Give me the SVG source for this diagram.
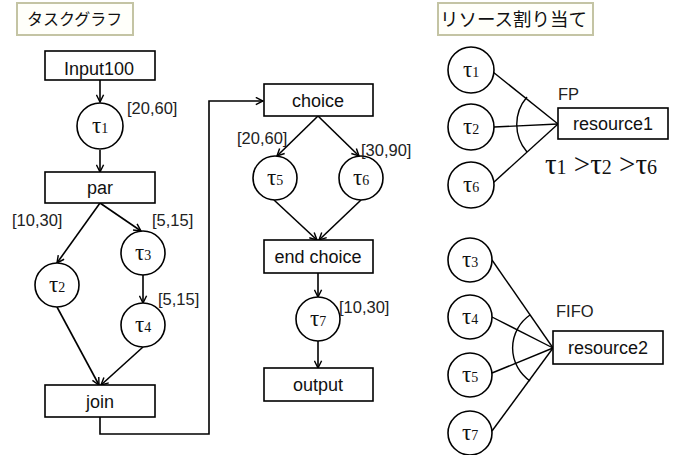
<svg xmlns="http://www.w3.org/2000/svg" width="677" height="455" viewBox="0 0 677 455">
  <style>
    .box { fill: #ffffff; stroke: #000; stroke-width: 1.6; }
    .title { fill: #fffffa; stroke: #c4c4a4; stroke-width: 2; }
    .title-text { font-family: "Noto Sans CJK JP", "Noto Sans", sans-serif; fill: #111; }
    .label { font-family: "Liberation Sans", Arial, sans-serif; font-size: 18px; fill: #111; text-anchor: middle; }
    .range { font-family: "Liberation Sans", Arial, sans-serif; font-size: 16.5px; fill: #222; }
    .task { fill: #fff; stroke: #000; stroke-width: 1.6; }
    .tau { font-family: "Liberation Serif", "Times New Roman", serif; font-size: 23px; fill: #111; text-anchor: middle; }
    .sub { font-size: 14px; }
    .edge { fill: none; stroke: #000; stroke-width: 1.6; }
    .link { fill: none; stroke: #000; stroke-width: 1.4; }
  </style>
  <defs>
    <marker id="arrow" viewBox="0 0 10 10" refX="9" refY="5" markerWidth="9" markerHeight="9" markerUnits="userSpaceOnUse" orient="auto">
      <path d="M1,1 L9,5 L1,9" fill="none" stroke="#000" stroke-width="1.6"/>
    </marker>
  </defs>

  <!-- section titles -->
  <g id="title-taskgraph">
    <rect class="title" x="17" y="3" width="116" height="32"/>
    <text class="title-text" x="27" y="25" style="font-size:16px">タスクグラフ</text>
  </g>
  <g id="title-resource">
    <rect class="title" x="438" y="3" width="155" height="32"/>
    <text class="title-text" x="440" y="26" style="font-size:18.5px">リソース割り当て</text>
  </g>

  <!-- connectors -->
  <g id="connectors">
    <line class="edge" x1="100" y1="80" x2="100" y2="102" marker-end="url(#arrow)"/>
    <line class="edge" x1="100" y1="150" x2="100" y2="172" marker-end="url(#arrow)"/>
    <line class="edge" x1="100" y1="203" x2="57" y2="263" marker-end="url(#arrow)"/>
    <line class="edge" x1="100" y1="203" x2="141" y2="231" marker-end="url(#arrow)"/>
    <line class="edge" x1="143" y1="274" x2="143" y2="303" marker-end="url(#arrow)"/>
    <line class="edge" x1="57" y1="307" x2="99" y2="385" marker-end="url(#arrow)"/>
    <line class="edge" x1="143" y1="347" x2="101" y2="385" marker-end="url(#arrow)"/>
    <polyline class="edge" points="100,417 100,434 209,434 209,101 263,101" marker-end="url(#arrow)"/>
    <line class="edge" x1="318" y1="116" x2="277" y2="156" marker-end="url(#arrow)"/>
    <line class="edge" x1="318" y1="116" x2="359" y2="156" marker-end="url(#arrow)"/>
    <line class="edge" x1="274" y1="200" x2="317" y2="240" marker-end="url(#arrow)"/>
    <line class="edge" x1="361" y1="200" x2="319" y2="240" marker-end="url(#arrow)"/>
    <line class="edge" x1="318" y1="273" x2="318" y2="297" marker-end="url(#arrow)"/>
    <line class="edge" x1="318" y1="341" x2="318" y2="368" marker-end="url(#arrow)"/>

    <!-- resource1 assignment (FP) -->
    <line class="link" x1="493" y1="72" x2="558" y2="124"/>
    <line class="link" x1="494" y1="127" x2="558" y2="124"/>
    <line class="link" x1="493" y1="183" x2="558" y2="124"/>
    <path class="link" d="M527,97 A42,42 0 0 0 527,152"/>

    <!-- resource2 assignment (FIFO) -->
    <line class="link" x1="492" y1="260" x2="553" y2="348"/>
    <line class="link" x1="492" y1="317" x2="553" y2="348"/>
    <line class="link" x1="492" y1="373" x2="553" y2="348"/>
    <line class="link" x1="492" y1="431" x2="553" y2="348"/>
    <path class="link" d="M530,315 A40,40 0 0 0 530,381"/>
  </g>

  <!-- task graph nodes -->
  <g id="input100">
    <rect class="box" x="45" y="51" width="110" height="29"/>
    <text class="label" x="99" y="75">Input100</text>
  </g>
  <g id="t1">
    <circle class="task" cx="100" cy="126" r="23"/>
    <text class="tau" x="100" y="133">τ<tspan class="sub">1</tspan></text>
    <text class="range" x="127" y="114">[20,60]</text>
  </g>
  <g id="par">
    <rect class="box" x="45" y="172" width="110" height="31"/>
    <text class="label" x="100" y="194">par</text>
  </g>
  <g id="t2">
    <circle class="task" cx="57" cy="285" r="22"/>
    <text class="tau" x="57" y="292">τ<tspan class="sub">2</tspan></text>
    <text class="range" x="12" y="226">[10,30]</text>
  </g>
  <g id="t3">
    <circle class="task" cx="143" cy="253" r="22"/>
    <text class="tau" x="143" y="260">τ<tspan class="sub">3</tspan></text>
    <text class="range" x="152" y="226">[5,15]</text>
  </g>
  <g id="t4">
    <circle class="task" cx="143" cy="325" r="22"/>
    <text class="tau" x="143" y="332">τ<tspan class="sub">4</tspan></text>
    <text class="range" x="158" y="305">[5,15]</text>
  </g>
  <g id="join">
    <rect class="box" x="45" y="385" width="110" height="32"/>
    <text class="label" x="100" y="408">join</text>
  </g>
  <g id="choice">
    <rect class="box" x="264" y="84" width="109" height="32"/>
    <text class="label" x="318" y="107">choice</text>
  </g>
  <g id="t5">
    <circle class="task" cx="275" cy="178" r="22"/>
    <text class="tau" x="275" y="185">τ<tspan class="sub">5</tspan></text>
    <text class="range" x="237" y="144">[20,60]</text>
  </g>
  <g id="t6">
    <circle class="task" cx="361" cy="178" r="22"/>
    <text class="tau" x="361" y="185">τ<tspan class="sub">6</tspan></text>
    <text class="range" x="361" y="156">[30,90]</text>
  </g>
  <g id="end-choice">
    <rect class="box" x="264" y="240" width="109" height="33"/>
    <text class="label" x="318" y="263">end choice</text>
  </g>
  <g id="t7">
    <circle class="task" cx="318" cy="319" r="22"/>
    <text class="tau" x="318" y="326">τ<tspan class="sub">7</tspan></text>
    <text class="range" x="339" y="313">[10,30]</text>
  </g>
  <g id="output">
    <rect class="box" x="264" y="368" width="109" height="33"/>
    <text class="label" x="318" y="391">output</text>
  </g>

  <!-- resource allocation nodes -->
  <g id="r-t1">
    <circle class="task" cx="471" cy="70" r="23"/>
    <text class="tau" x="471" y="77">τ<tspan class="sub">1</tspan></text>
  </g>
  <g id="r-t2">
    <circle class="task" cx="471" cy="127" r="23"/>
    <text class="tau" x="471" y="134">τ<tspan class="sub">2</tspan></text>
  </g>
  <g id="r-t6">
    <circle class="task" cx="471" cy="185" r="23"/>
    <text class="tau" x="471" y="192">τ<tspan class="sub">6</tspan></text>
  </g>
  <g id="resource1">
    <rect class="box" x="558" y="108" width="110" height="31"/>
    <text class="label" x="613" y="130">resource1</text>
    <text class="range" x="558" y="100">FP</text>
    <text class="tau" x="601" y="174" style="font-size:29px">τ<tspan style="font-size:20px">1</tspan> &gt;τ<tspan style="font-size:20px">2</tspan> &gt;τ<tspan style="font-size:20px">6</tspan></text>
  </g>
  <g id="r-t3">
    <circle class="task" cx="470" cy="260" r="22"/>
    <text class="tau" x="470" y="267">τ<tspan class="sub">3</tspan></text>
  </g>
  <g id="r-t4">
    <circle class="task" cx="470" cy="317" r="22"/>
    <text class="tau" x="470" y="324">τ<tspan class="sub">4</tspan></text>
  </g>
  <g id="r-t5">
    <circle class="task" cx="470" cy="375" r="22"/>
    <text class="tau" x="470" y="382">τ<tspan class="sub">5</tspan></text>
  </g>
  <g id="r-t7">
    <circle class="task" cx="470" cy="433" r="22"/>
    <text class="tau" x="470" y="440">τ<tspan class="sub">7</tspan></text>
  </g>
  <g id="resource2">
    <rect class="box" x="553" y="331" width="110" height="33"/>
    <text class="label" x="608" y="354">resource2</text>
    <text class="range" x="556" y="317">FIFO</text>
  </g>
</svg>
